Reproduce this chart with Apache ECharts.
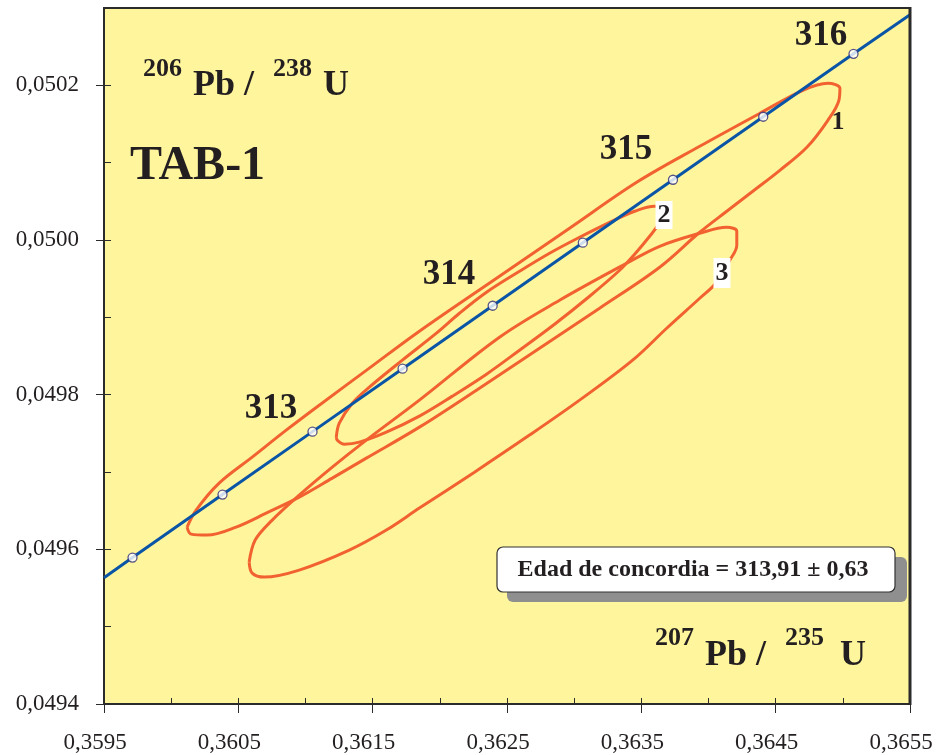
<!DOCTYPE html>
<html><head><meta charset="utf-8">
<script src="https://cdn.jsdelivr.net/npm/echarts@6/dist/echarts.min.js"></script>
<style>html,body{margin:0;padding:0;background:#fff}#c{width:940px;height:755px}</style>
</head><body><div id="c"></div>
<script>
// ---- tick labels ----
const xTickValues = [0.3595, 0.3605, 0.3615, 0.3625, 0.3635, 0.3645, 0.3655];
const xTickLabels = ['0,3595', '0,3605', '0,3615', '0,3625', '0,3635', '0,3645', '0,3655'];
const yTickValues = [0.0494, 0.0496, 0.0498, 0.0500, 0.0502];
const yTickLabels = ['0,0494', '0,0496', '0,0498', '0,0500', '0,0502'];

// ---- concordia curve (207Pb/235U, 206Pb/238U) ----
const concLineX = [0.3595, 0.3597123, 0.3603822, 0.3610522, 0.3617225, 0.3623932, 0.3630643, 0.3637356, 0.3644074, 0.3650794, 0.3655];
const concLineY = [0.0495633, 0.0495894, 0.0496708, 0.0497522, 0.0498336, 0.0499150, 0.0499965, 0.0500779, 0.0501594, 0.0502408, 0.0502913];
// age markers (Ma) every 0.5 Ma
const markerAges = [312, 312.5, 313, 313.5, 314, 314.5, 315, 315.5, 316];
const markerX = [0.3597123, 0.3603822, 0.3610522, 0.3617225, 0.3623932, 0.3630643, 0.3637356, 0.3644074, 0.3650794];
const markerY = [0.0495894, 0.0496708, 0.0497522, 0.0498336, 0.0499150, 0.0499965, 0.0500779, 0.0501594, 0.0502408];
const ageLabels = ['313', '314', '315', '316'];

// ---- error ellipses (outline points) ----
const ellipse1 = [
  [0.3601186,0.0496288],[0.3601857,0.0496507],[0.3603571,0.0496856],[0.3606031,0.0497192],[0.3608565,0.0497541],
  [0.3611025,0.0497864],[0.3614752,0.0498343],[0.3618478,0.0498821],[0.3624441,0.0499532],[0.3629658,0.0500152],
  [0.3634652,0.0500746],[0.3639348,0.0501212],[0.3643820,0.0501638],[0.3647025,0.0501935],[0.3648888,0.0502026],
  [0.3649783,0.0501961],[0.3649708,0.0501806],[0.3648888,0.0501548],[0.3647323,0.0501199],[0.3645310,0.0500901],
  [0.3643298,0.0500630],[0.3641360,0.0500372],[0.3639348,0.0500100],[0.3636366,0.0499648],[0.3631894,0.0499118],
  [0.3627422,0.0498601],[0.3622950,0.0498084],[0.3618478,0.0497580],[0.3614528,0.0497179],[0.3611994,0.0496921],
  [0.3609534,0.0496675],[0.3607074,0.0496468],[0.3604838,0.0496288],[0.3602677,0.0496184],[0.3601484,0.0496197]
];
const ellipse2 = [
  [0.3612292,0.0497451],[0.3612516,0.0497632],[0.3613484,0.0497890],[0.3614752,0.0498097],[0.3617211,0.0498446],
  [0.3619745,0.0498795],[0.3621460,0.0499053],[0.3623472,0.0499325],[0.3625932,0.0499596],[0.3628168,0.0499829],
  [0.3630404,0.0500036],[0.3632640,0.0500229],[0.3634503,0.0500372],[0.3635994,0.0500436],[0.3636665,0.0500384],
  [0.3636366,0.0500229],[0.3635621,0.0500048],[0.3634503,0.0499816],[0.3633385,0.0499609],[0.3631149,0.0499273],
  [0.3628540,0.0498911],[0.3625932,0.0498575],[0.3623472,0.0498265],[0.3620938,0.0497981],[0.3618478,0.0497722],
  [0.3616019,0.0497515],[0.3614006,0.0497386],[0.3612888,0.0497360],[0.3612366,0.0497412]
];
const ellipse3 = [
  [0.3605807,0.0495835],[0.3606255,0.0496120],[0.3607522,0.0496378],[0.3609534,0.0496701],[0.3611994,0.0497063],
  [0.3614528,0.0497412],[0.3618478,0.0497929],[0.3624441,0.0498743],[0.3628913,0.0499221],[0.3633907,0.0499700],
  [0.3636366,0.0499919],[0.3639348,0.0500087],[0.3641360,0.0500165],[0.3642106,0.0500113],[0.3642106,0.0499932],
  [0.3641584,0.0499738],[0.3640540,0.0499441],[0.3639348,0.0499247],[0.3636888,0.0498859],[0.3634354,0.0498446],
  [0.3630404,0.0497929],[0.3626677,0.0497477],[0.3622578,0.0496998],[0.3618478,0.0496533],[0.3616019,0.0496249],
  [0.3613261,0.0495990],[0.3609534,0.0495732],[0.3606925,0.0495641],[0.3606031,0.0495693]
];
const ellipseNames = ['1', '2', '3'];
const concordiaText = 'Edad de concordia = 313,91 ± 0,63';

function closeLoop(pts) { return pts.concat([pts[0]]); }

const SERIF = '"Liberation Serif", "Times New Roman", serif';
const INK = '#231F20';
const ORANGE = '#F26230';
const BLUE = '#0B55A6';
const FRAME = '#2b2b2b';

const chart = echarts.init(document.getElementById('c'), null, {renderer: 'canvas'});

function txt(text, x, y, size, align, extra) {
  return {
    type: 'text', z: 100, x: x, y: y,
    style: Object.assign({text: text, fill: INK, font: 'bold ' + size + 'px ' + SERIF,
      textAlign: align || 'left', textVerticalAlign: 'middle'}, extra || {})
  };
}
function labelFor(values, labels, v, eps) {
  for (let i = 0; i < values.length; i++) if (Math.abs(v - values[i]) < eps) return labels[i];
  return '';
}

const gridBox = {left: 104, right: 30, top: 8, bottom: 51};

const option = {
  animation: false,
  backgroundColor: '#ffffff',
  grid: [
    Object.assign({show: true, backgroundColor: '#FFF59D', borderColor: FRAME, borderWidth: 2,
      outerBoundsMode: 'none', containLabel: false}, gridBox),
    Object.assign({show: false, outerBoundsMode: 'none', containLabel: false}, gridBox)
  ],
  xAxis: [{
    gridIndex: 0, type: 'value', min: 0.3595, max: 0.3655, interval: 0.0005, position: 'bottom',
    axisLine: {show: true, onZero: false, lineStyle: {color: FRAME, width: 2}},
    axisTick: {show: true, inside: true, length: 6, lineStyle: {color: FRAME, width: 1}},
    splitLine: {show: false},
    axisLabel: {show: true, customValues: xTickValues, margin: 27, padding: [0, 18, 0, 0],
      color: INK, fontFamily: SERIF, fontSize: 23,
      formatter: function (v) { return labelFor(xTickValues, xTickLabels, v, 1e-7); }}
  }, {
    gridIndex: 1, type: 'value', min: 0.3595, max: 0.3655, position: 'bottom',
    axisLine: {show: false}, axisLabel: {show: false}, splitLine: {show: false},
    axisTick: {show: true, customValues: xTickValues, inside: false, length: 9, lineStyle: {color: FRAME, width: 1}}
  }],
  yAxis: [{
    gridIndex: 0, type: 'value', min: 0.0494, max: 0.0503, interval: 0.0001, position: 'left',
    axisLine: {show: true, onZero: false, lineStyle: {color: FRAME, width: 2}},
    axisTick: {show: true, inside: true, length: 7, lineStyle: {color: FRAME, width: 1}},
    splitLine: {show: false},
    axisLabel: {show: true, customValues: yTickValues, margin: 25, color: INK, fontFamily: SERIF, fontSize: 23,
      formatter: function (v) { return labelFor(yTickValues, yTickLabels, v, 1e-8); }}
  }, {
    gridIndex: 1, type: 'value', min: 0.0494, max: 0.0503, position: 'left',
    axisLine: {show: false}, axisLabel: {show: false}, splitLine: {show: false},
    axisTick: {show: true, customValues: yTickValues, inside: false, length: 8, lineStyle: {color: FRAME, width: 1}}
  }],
  series: [
    {type: 'line', xAxisIndex: 0, yAxisIndex: 0, data: closeLoop(ellipse1), smooth: 0.35, showSymbol: false,
      lineStyle: {color: ORANGE, width: 3}, z: 2, silent: true},
    {type: 'line', xAxisIndex: 0, yAxisIndex: 0, data: closeLoop(ellipse2), smooth: 0.35, showSymbol: false,
      lineStyle: {color: ORANGE, width: 3}, z: 2, silent: true},
    {type: 'line', xAxisIndex: 0, yAxisIndex: 0, data: closeLoop(ellipse3), smooth: 0.35, showSymbol: false,
      lineStyle: {color: ORANGE, width: 3}, z: 2, silent: true},
    {type: 'line', xAxisIndex: 0, yAxisIndex: 0, data: concLineX.map((x, i) => [x, concLineY[i]]),
      showSymbol: false, lineStyle: {color: BLUE, width: 3}, z: 3, silent: true},
    {type: 'scatter', xAxisIndex: 0, yAxisIndex: 0, data: markerX.map((x, i) => [x, markerY[i], markerAges[i]]),
      symbol: 'circle', symbolSize: 9, itemStyle: {color: '#ffffff', borderColor: '#2c2c78', borderWidth: 1.3}, z: 4, silent: true}
  ],
  graphic: [
    // thicker right frame edge as in the original
    {type: 'line', z: 50, shape: {x1: 910, y1: 7, x2: 910, y2: 705}, style: {stroke: FRAME, lineWidth: 3}},
    // ratio axis titles
    txt('206', 143, 69, 26), txt('Pb /', 193, 86, 36), txt('238', 273, 69, 26), txt('U', 323, 86, 36),
    txt('207', 655, 638, 26), txt('Pb /', 705, 656, 36), txt('235', 785, 638, 26), txt('U', 840, 656, 36),
    txt('TAB-1', 130, 167, 48),
    // ages on concordia
    txt(ageLabels[0], 271, 409, 35, 'center'), txt(ageLabels[1], 449, 275, 35, 'center'),
    txt(ageLabels[2], 626, 150, 35, 'center'), txt(ageLabels[3], 821, 36, 35, 'center'),
    // ellipse numbers
    txt(ellipseNames[0], 838, 122, 26, 'center'),
    txt(ellipseNames[1], 664, 215, 26, 'center', {backgroundColor: '#ffffff', padding: [1, 2, 1, 2]}),
    txt(ellipseNames[2], 722, 273, 26, 'center', {backgroundColor: '#ffffff', padding: [2, 2, 2, 2]}),
    // concordia age box
    {type: 'rect', z: 99, shape: {x: 507, y: 557, width: 400, height: 45, r: 6}, style: {fill: '#8f8f8f'}},
    {type: 'rect', z: 100, shape: {x: 497, y: 547, width: 398, height: 45, r: 6},
      style: {fill: '#ffffff', stroke: '#333333', lineWidth: 1.2}},
    {type: 'text', z: 101, x: 693, y: 570, style: {text: concordiaText, fill: INK,
      font: 'bold 24px ' + SERIF, textAlign: 'center', textVerticalAlign: 'middle'}}
  ]
};
chart.setOption(option);
</script>
</body></html>
